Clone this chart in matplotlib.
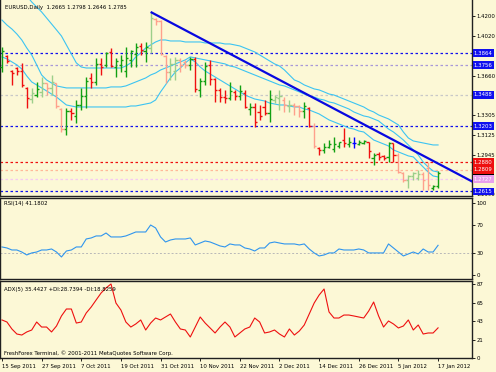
import matplotlib
matplotlib.use('Agg')
import matplotlib.pyplot as plt
import numpy as np

# ---------------- data ----------------
chart_title = "EURUSD,Daily  1.2665 1.2798 1.2646 1.2785"
rsi_title = "RSI(14) 41.1802"
adx_title = "ADX(5) 35.4427 +DI:28.7394 -DI:18.8259"
copyright_text = "FreshForex Terminal, \u00a9 2001-2011 MetaQuotes Software Corp."

opens = [1.3740, 1.3840, 1.3705, 1.3730, 1.3705, 1.3550, 1.3450, 1.3490, 1.3510, 1.3590,
         1.3545, 1.3590, 1.3360, 1.3180, 1.3345, 1.3300, 1.3400, 1.3480, 1.3640, 1.3600,
         1.3770, 1.3760, 1.3870, 1.3740, 1.3760, 1.3700, 1.3800, 1.3860, 1.3930, 1.3880,
         1.3910, 1.4170, 1.4150, 1.3840, 1.3690, 1.3700, 1.3800, 1.3780, 1.3760, 1.3810,
         1.3530, 1.3610, 1.3760, 1.3630, 1.3530, 1.3470, 1.3460, 1.3510, 1.3480, 1.3500,
         1.3360, 1.3380, 1.3330, 1.3380, 1.3320, 1.3440, 1.3460, 1.3440, 1.3390, 1.3400,
         1.3390, 1.3340, 1.3370, 1.3210, 1.3010, 1.2990, 1.3015, 1.3000, 1.3030, 1.3080,
         1.3045, 1.3050, 1.3045, 1.3055, 1.3060, 1.2920, 1.2950, 1.2935, 1.2930, 1.3050,
         1.2940, 1.2785, 1.2720, 1.2755, 1.2740, 1.2770, 1.2830, 1.2650, 1.2665]
highs = [1.3920, 1.3848, 1.3712, 1.3740, 1.3776, 1.3559, 1.3550, 1.3604, 1.3649, 1.3595,
         1.3667, 1.3595, 1.3369, 1.3369, 1.3369, 1.3441, 1.3550, 1.3649, 1.3685, 1.3821,
         1.3821, 1.3875, 1.3911, 1.3821, 1.3848, 1.3920, 1.3893, 1.3956, 1.3956, 1.3965,
         1.4236, 1.4182, 1.4164, 1.3848, 1.3821, 1.3830, 1.3821, 1.3803, 1.3830, 1.3830,
         1.3640, 1.3785, 1.3803, 1.3640, 1.3550, 1.3532, 1.3604, 1.3532, 1.3577, 1.3530,
         1.3414, 1.3414, 1.3396, 1.3441, 1.3532, 1.3487, 1.3532, 1.3469, 1.3441, 1.3414,
         1.3396, 1.3423, 1.3378, 1.3234, 1.3017, 1.3053, 1.3080, 1.3107, 1.3062, 1.3189,
         1.3107, 1.3107, 1.3080, 1.3080, 1.3062, 1.2963, 1.2972, 1.2945, 1.3062, 1.3053,
         1.2963, 1.2791, 1.2764, 1.2791, 1.2809, 1.2791, 1.2882, 1.2674, 1.2798]
lows = [1.3694, 1.3776, 1.3577, 1.3667, 1.3559, 1.3369, 1.3414, 1.3469, 1.3469, 1.3487,
        1.3487, 1.3369, 1.3153, 1.3125, 1.3261, 1.3234, 1.3351, 1.3369, 1.3550, 1.3577,
        1.3667, 1.3740, 1.3740, 1.3649, 1.3694, 1.3649, 1.3740, 1.3740, 1.3848, 1.3784,
        1.3866, 1.4119, 1.3848, 1.3595, 1.3622, 1.3622, 1.3694, 1.3730, 1.3712, 1.3514,
        1.3469, 1.3577, 1.3577, 1.3423, 1.3423, 1.3414, 1.3441, 1.3441, 1.3441, 1.3370,
        1.3306, 1.3198, 1.3261, 1.3306, 1.3243, 1.3414, 1.3351, 1.3333, 1.3333, 1.3306,
        1.3288, 1.3279, 1.3198, 1.3008, 1.2945, 1.2963, 1.3008, 1.2972, 1.3008, 1.3017,
        1.3017, 1.3008, 1.3035, 1.3040, 1.2918, 1.2855, 1.2900, 1.2900, 1.2882, 1.2882,
        1.2782, 1.2701, 1.2647, 1.2719, 1.2719, 1.2629, 1.2629, 1.2629, 1.2646]
closes = [1.3880, 1.3795, 1.3683, 1.3700, 1.3580, 1.3455, 1.3500, 1.3540, 1.3595, 1.3545,
          1.3600, 1.3390, 1.3180, 1.3340, 1.3320, 1.3400, 1.3480, 1.3610, 1.3600, 1.3770,
          1.3740, 1.3865, 1.3745, 1.3790, 1.3800, 1.3820, 1.3880, 1.3920, 1.3890, 1.3920,
          1.4180, 1.4150, 1.3860, 1.3690, 1.3770, 1.3800, 1.3760, 1.3760, 1.3810, 1.3540,
          1.3610, 1.3750, 1.3630, 1.3530, 1.3470, 1.3455, 1.3520, 1.3480, 1.3520, 1.3380,
          1.3380, 1.3240, 1.3300, 1.3320, 1.3450, 1.3470, 1.3480, 1.3400, 1.3400, 1.3390,
          1.3340, 1.3390, 1.3210, 1.3030, 1.2990, 1.3015, 1.3045, 1.3040, 1.3060, 1.3050,
          1.3060, 1.3050, 1.3060, 1.3070, 1.2980, 1.2945, 1.2930, 1.2920, 1.3050, 1.2940,
          1.2790, 1.2720, 1.2755, 1.2780, 1.2770, 1.2720, 1.2670, 1.2665, 1.2785]

band_upper = [1.4751, 1.4678, 1.4606, 1.4543, 1.4462, 1.4381, 1.4326, 1.4281, 1.4236, 1.4182,
              1.4128, 1.4074, 1.4019, 1.3938, 1.3857, 1.3776, 1.3739, 1.3730, 1.3730, 1.3730,
              1.3730, 1.3730, 1.3730, 1.3730, 1.3730, 1.3748, 1.3776, 1.3830, 1.3866, 1.3911,
              1.3938, 1.3965, 1.3983, 1.3983, 1.3974, 1.3974, 1.3974, 1.3965, 1.3965, 1.3965,
              1.3965, 1.3956, 1.3956, 1.3956, 1.3956, 1.3947, 1.3947, 1.3938, 1.3929, 1.3911,
              1.3893, 1.3875, 1.3848, 1.3821, 1.3794, 1.3767, 1.3748, 1.3712, 1.3667, 1.3622,
              1.3604, 1.3577, 1.3559, 1.3541, 1.3532, 1.3514, 1.3495, 1.3486, 1.3468, 1.3450,
              1.3432, 1.3414, 1.3396, 1.3378, 1.3351, 1.3333, 1.3306, 1.3288, 1.3270, 1.3243,
              1.3216, 1.3152, 1.3098, 1.3071, 1.3062, 1.3053, 1.3044, 1.3035, 1.3035]
band_middle = [1.4163, 1.4118, 1.4082, 1.4037, 1.3983, 1.3911, 1.3848, 1.3758, 1.3667, 1.3622,
               1.3595, 1.3568, 1.3559, 1.3550, 1.3550, 1.3550, 1.3550, 1.3550, 1.3550, 1.3550,
               1.3550, 1.3550, 1.3559, 1.3559, 1.3559, 1.3568, 1.3586, 1.3604, 1.3622, 1.3640,
               1.3667, 1.3685, 1.3712, 1.3730, 1.3748, 1.3767, 1.3785, 1.3803, 1.3830, 1.3821,
               1.3812, 1.3803, 1.3794, 1.3785, 1.3776, 1.3767, 1.3748, 1.3739, 1.3721, 1.3703,
               1.3685, 1.3667, 1.3649, 1.3631, 1.3613, 1.3595, 1.3577, 1.3568, 1.3550, 1.3532,
               1.3514, 1.3495, 1.3477, 1.3468, 1.3450, 1.3441, 1.3423, 1.3414, 1.3396, 1.3378,
               1.3360, 1.3333, 1.3315, 1.3297, 1.3288, 1.3270, 1.3252, 1.3216, 1.3179, 1.3152,
               1.3116, 1.3080, 1.3035, 1.2990, 1.2945, 1.2881, 1.2836, 1.2800, 1.2791]
band_lower = [1.3830, 1.3812, 1.3785, 1.3758, 1.3721, 1.3658, 1.3604, 1.3577, 1.3550, 1.3523,
              1.3495, 1.3468, 1.3432, 1.3396, 1.3387, 1.3378, 1.3378, 1.3378, 1.3378, 1.3378,
              1.3378, 1.3378, 1.3378, 1.3378, 1.3378, 1.3378, 1.3387, 1.3387, 1.3396, 1.3405,
              1.3414, 1.3441, 1.3514, 1.3577, 1.3640, 1.3694, 1.3730, 1.3776, 1.3812, 1.3785,
              1.3739, 1.3703, 1.3676, 1.3649, 1.3622, 1.3595, 1.3568, 1.3541, 1.3514, 1.3486,
              1.3468, 1.3450, 1.3441, 1.3432, 1.3414, 1.3405, 1.3396, 1.3396, 1.3387, 1.3378,
              1.3378, 1.3360, 1.3351, 1.3333, 1.3315, 1.3288, 1.3261, 1.3243, 1.3225, 1.3207,
              1.3188, 1.3179, 1.3161, 1.3152, 1.3116, 1.3080, 1.3062, 1.3044, 1.3026, 1.2990,
              1.2972, 1.2954, 1.2936, 1.2927, 1.2881, 1.2836, 1.2791, 1.2755, 1.2746]

rsi = [38.9, 37.5, 34.7, 34.7, 31.9, 27.8, 30.6, 31.9, 34.7, 34.7,
       36.1, 31.9, 25.0, 33.3, 34.7, 38.9, 38.9, 50.0, 51.4, 54.2,
       54.2, 58.3, 52.8, 52.8, 52.8, 54.2, 56.9, 59.7, 59.7, 59.7,
       69.4, 65.3, 52.8, 45.8, 48.6, 50.0, 50.0, 50.0, 51.4, 41.7,
       44.4, 47.2, 45.8, 43.1, 40.3, 38.9, 43.1, 41.7, 41.7, 37.5,
       36.1, 33.3, 37.5, 37.5, 44.4, 45.8, 44.4, 43.1, 43.1, 43.1,
       41.7, 43.1, 36.1, 30.6, 26.4, 27.8, 30.6, 30.6, 36.1, 34.7,
       34.7, 34.7, 36.1, 34.7, 30.6, 30.6, 30.6, 30.6, 43.1, 37.5,
       31.9, 26.4, 29.2, 31.9, 29.2, 36.1, 31.9, 31.9, 41.2]
adx = [44.7, 42.3, 34.1, 28.2, 27.0, 30.6, 32.9, 42.3, 36.4, 36.4,
       30.6, 37.6, 49.4, 57.6, 57.6, 41.1, 42.3, 52.9, 59.9, 68.2,
       76.4, 82.3, 87.0, 64.6, 56.4, 42.3, 36.4, 40.0, 44.7, 32.9,
       41.1, 47.0, 44.7, 48.2, 51.7, 42.3, 34.1, 32.9, 24.7, 36.4,
       48.2, 41.1, 35.3, 29.4, 36.4, 42.3, 36.4, 24.7, 29.4, 34.1,
       36.4, 47.0, 42.3, 29.4, 30.6, 32.9, 28.2, 24.7, 34.1, 27.0,
       31.7, 38.8, 51.7, 64.6, 74.0, 81.1, 54.1, 47.0, 47.0, 50.5,
       50.5, 49.4, 48.2, 47.0, 55.2, 65.8, 49.4, 36.4, 43.5, 40.0,
       35.3, 37.6, 44.7, 32.9, 38.8, 28.2, 29.4, 29.4, 35.4]

date_labels = ["15 Sep 2011", "27 Sep 2011", "7 Oct 2011", "19 Oct 2011", "31 Oct 2011",
               "10 Nov 2011", "22 Nov 2011", "2 Dec 2011", "14 Dec 2011", "26 Dec 2011",
               "5 Jan 2012", "17 Jan 2012"]
date_label_bars = [0, 8, 16, 24, 32, 40, 48, 56, 64, 72, 80, 88]

price_ticks = [1.4200, 1.4020, 1.3660, 1.3305, 1.3125, 1.2945, 1.2590]
level_prices = [1.3864, 1.3756, 1.3488, 1.3203, 1.2880, 1.2809, 1.2727, 1.2615]
current_price = 1.2785
trend_bars = [30, 95]
trend_prices = [1.4236, 1.2702]
rsi_ticks = [100, 70, 30, 0]
rsi_level = 30
adx_ticks = [87, 65, 43, 21, 0]

# ---------------- style ----------------
BG = '#fcf8d6'
UP, DOWN = '#12a012', '#f01010'
UP_F, DOWN_F = '#9ccf8a', '#ffa08c'
DOJI = '#0000ff'
faded = {6, 8, 9, 10, 11, 12, 30, 31, 32, 33, 34, 35, 36, 37, 55, 56, 57, 58, 59, 60,
         63, 80, 81, 82, 83, 84, 85, 86}
level_line_colors = ['#1010ee', '#a898d8', '#c8c8c8', '#1010ee', '#ee1010', '#ffb898',
                     '#f4c8f4', '#1010ee']
level_box_colors = ['#1010ee', '#1010ee', '#1010ee', '#1010ee', '#ee1010', '#ee1010',
                    '#e8a0ec', '#1010ee']
FS = 3.9
FONT = 'DejaVu Sans'
plt.rcParams['font.family'] = [FONT]

W, H = 496, 372
fig = plt.figure(figsize=(W / 100, H / 100), dpi=100, facecolor=BG)


def rect(x0, y0, x1, y1):
    return [x0 / W, 1 - y1 / H, (x1 - x0) / W, (y1 - y0) / H]


ax_main = fig.add_axes(rect(0, 0, 472, 196))
ax_rsi = fig.add_axes(rect(0, 198, 472, 279))
ax_adx = fig.add_axes(rect(0, 281, 472, 358))

n = len(closes)
x = np.arange(n)
XL = (-0.4, 94.85)

for ax in (ax_main, ax_rsi, ax_adx):
    ax.set_facecolor(BG)
    ax.set_xlim(*XL)
    for s in ax.spines.values():
        s.set_color('#202020')
        s.set_linewidth(1.0)
    ax.yaxis.tick_right()
    ax.tick_params(axis='y', length=2, width=0.6, pad=1.5, labelsize=FS, colors='#000000')
    ax.tick_params(axis='x', length=0, labelbottom=False)
ax_main.spines['top'].set_visible(False)

# --- main panel ---
ax_main.set_ylim(1.2574, 1.4344)
for p, c in zip(level_prices, level_line_colors):
    ax_main.axhline(p, color=c, lw=0.9, ls=(0, (2, 2)), zorder=1)

ax_main.plot(x, band_upper, color='#3cc4f2', lw=0.8, zorder=2)
ax_main.plot(x, band_middle, color='#3cc4f2', lw=0.8, zorder=2)
ax_main.plot(x, band_lower, color='#3cc4f2', lw=0.8, zorder=2)

cols = []
for i in range(n):
    if closes[i] > opens[i]:
        c = UP_F if i in faded else UP
    elif closes[i] < opens[i]:
        c = DOWN_F if i in faded else DOWN
    else:
        c = DOJI
    cols.append(c)
ax_main.vlines(x, lows, highs, colors=cols, lw=1.0, zorder=3)
ax_main.hlines(opens, x - 0.45, x, colors=cols, lw=1.0, zorder=3)
ax_main.hlines(closes, x, x + 0.45, colors=cols, lw=1.0, zorder=3)

ax_main.plot(trend_bars, trend_prices, color='#0808e0', lw=1.6, zorder=4,
             solid_capstyle='butt')

ax_main.set_yticks(price_ticks)
ax_main.set_yticklabels(['%.4f' % v for v in price_ticks])

ytr = ax_main.get_yaxis_transform()
ax_main.text(1.004, current_price, '%.4f' % current_price, transform=ytr, ha='left',
             va='center', fontsize=FS, color='white', zorder=5,
             bbox=dict(boxstyle='square,pad=0.25', fc='#000000', ec='none'), clip_on=False)
for p, c in zip(level_prices, level_box_colors):
    ax_main.text(1.004, p, '%.4f' % p, transform=ytr, ha='left', va='center', fontsize=FS,
                 color='white', zorder=6,
                 bbox=dict(boxstyle='square,pad=0.25', fc=c, ec='none'), clip_on=False)

fig.text(5 / W, 1 - 7 / H, chart_title, fontsize=FS, ha='left', va='center', color='#000000')

# --- RSI panel ---
ax_rsi.set_ylim(-5.6, 106.9)
ax_rsi.axhline(rsi_level, color='#b8b8b8', lw=0.7, ls=(0, (2, 2)))
ax_rsi.plot(x, rsi, color='#2f95ee', lw=0.8)
ax_rsi.set_yticks(rsi_ticks)
ax_rsi.set_yticklabels([str(v) for v in rsi_ticks])
fig.text(4 / W, 1 - 204 / H, rsi_title, fontsize=FS, ha='left', va='center')

# --- ADX panel ---
ax_adx.set_ylim(0, 90.5)
ax_adx.plot(x, adx, color='#ee1010', lw=0.8)
ax_adx.set_yticks(adx_ticks)
ax_adx.set_yticklabels([str(v) for v in adx_ticks])
fig.text(4 / W, 1 - 289 / H, adx_title, fontsize=FS, ha='left', va='center')
fig.text(4 / W, 1 - 353 / H, copyright_text, fontsize=FS, ha='left', va='center')

ax_adx.set_xticks(date_label_bars)
ax_adx.set_xticklabels(date_labels, ha='left')
ax_adx.tick_params(axis='x', length=2.5, width=0.6, pad=1.5, labelsize=FS,
                   labelbottom=True, direction='out')

fig.savefig('out.png', dpi=100, facecolor=BG)
